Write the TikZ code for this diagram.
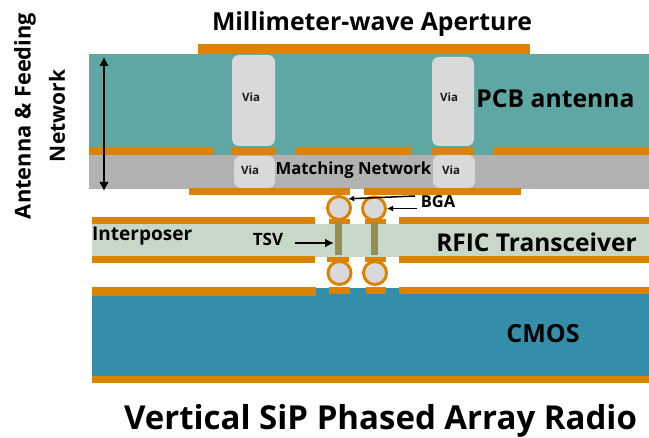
\documentclass[tikz,border=0pt]{standalone}
\usepackage{fontspec}
\setmainfont{Open Sans}
\usetikzlibrary{arrows.meta}
\definecolor{cu}{HTML}{D98300}
\definecolor{pcb}{HTML}{5FA7A2}
\definecolor{mn}{HTML}{B2B2B2}
\definecolor{ip}{HTML}{C8D8C8}
\definecolor{cm}{HTML}{348EA9}
\definecolor{vi}{HTML}{D9D9D9}
\definecolor{ts}{HTML}{958E50}
\newcommand{\fs}[1]{\fontsize{#1}{#1}\selectfont}
\tikzset{x=1pt,y=-1pt,
 band/.style={fill=#1,draw=none},
 cuu/.style={fill=cu,draw=none},
 viab/.style={fill=vi,draw=none,rounded corners=7pt},
 ball/.style={circle,draw=cu,line width=3pt,fill=vi,minimum size=23pt,inner sep=0pt},
 tsvb/.style={fill=ts,draw=none},
 lab/.style={inner sep=0pt,font=\bfseries,text=black},
 vlab/.style={inner sep=0pt,font=\fs{11.5}\bfseries,text=black!90},
 arr/.style={draw=black,line width=1.5pt,-{Latex[length=6pt,width=6pt]}},
}
\begin{document}
\begin{tikzpicture}
\useasboundingbox (0,0) rectangle (649,438);
% layers
\fill[band=pcb] (89,54) rectangle (649,155);
\fill[band=mn] (89,155) rectangle (649,189);
\fill[band=ip] (92,224) rectangle (649,257);
\fill[band=cm] (92,295) rectangle (316,376);
\fill[band=cm] (316,288) rectangle (649,376);
% copper
\fill[cuu] (198,44) rectangle (530,54);
\fill[cuu] (89,147) rectangle (213,155);
\fill[cuu] (231,147) rectangle (275,155);
\fill[cuu] (295,147) rectangle (412,155);
\fill[cuu] (432,147) rectangle (474,155);
\fill[cuu] (494,147) rectangle (649,155);
\fill[cuu] (189,188) rectangle (350,195);
\fill[cuu] (364,188) rectangle (521,195);
\fill[cuu] (92,217) rectangle (315,224);
\fill[cuu] (399,217) rectangle (649,224);
\fill[cuu] (92,256) rectangle (315,263);
\fill[cuu] (399,256) rectangle (649,263);
\fill[cuu] (92,287) rectangle (316,296);
\fill[cuu] (399,287) rectangle (649,294);
\fill[cuu] (92,376) rectangle (649,383);
% pads
\fill[cuu] (329,219) rectangle (350,224);
\fill[cuu] (365,219) rectangle (386,224);
\fill[cuu] (327,257) rectangle (349,262);
\fill[cuu] (365,257) rectangle (386,262);
\fill[cuu] (329,287) rectangle (350,294);
\fill[cuu] (366,287) rectangle (386,294);
% TSV
\fill[tsvb] (335,222) rectangle (342,255);
\fill[tsvb] (371,222) rectangle (378,255);
% vias
\fill[viab] (232,55) rectangle (275,146);
\fill[viab] (432,57) rectangle (474,146);
\fill[viab] (234,156) rectangle (275,188);
\fill[viab] (433,155) rectangle (475,188);
\node[vlab] (v1) at (251,97) {Via};
\node[vlab] (v2) at (449,97) {Via};
\node[vlab] (v3) at (250,170) {Via};
\node[vlab] (v4) at (451,170) {Via};
% balls
\node[ball] (b1) at (339,208) {};
\node[ball] (b2) at (374,208.5) {};
\node[ball] (b3) at (339.5,273) {};
\node[ball] (b4) at (375,273) {};
% labels
\node[lab,font=\fs{24.8}\bfseries] (t1) at (372,24) {Millimeter-wave Aperture};
\node[lab,font=\fs{24.7}\bfseries] (t2) at (555.5,99) {PCB antenna};
\node[lab,font=\fs{16.7}\bfseries] (t3) at (353.5,170) {Matching Network};
\node[lab,font=\fs{24.5}\bfseries] (t4) at (536.5,242) {RFIC Transceiver};
\node[lab,font=\fs{25}\bfseries] (t5) at (543,334) {CMOS};
\node[lab,font=\fs{19}\bfseries,anchor=west] (t6) at (92,236) {Interposer};
\node[lab,font=\fs{17}\bfseries] (t7) at (268,239) {TSV};
\node[lab,font=\fs{16.5}\bfseries] (t8) at (438,202) {BGA};
\node[lab,font=\fs{33}\bfseries] (t9) at (380.5,421) {Vertical SiP Phased Array Radio};
\node[lab,font=\fs{21.8}\bfseries,rotate=90] (t10) at (25,116) {Antenna \& Feeding};
\node[lab,font=\fs{21}\bfseries,rotate=90] (t11) at (57,116) {Network};
% connectors
\coordinate (ht) at (104,57);
\coordinate (hb) at (104,191);
\draw[draw=black,line width=2.2pt,{Latex[length=9pt,width=10pt]}-{Latex[length=9pt,width=10pt]}] (ht) -- (hb);
\coordinate (ba) at (415,196);
\coordinate (bb) at (417,208.5);
\coordinate (ta) at (295,243);
\coordinate (tb) at (334,243);
\draw[arr] (ba) -- (b1.north east);
\draw[arr] (bb) -- (b2.east);
\draw[draw=black,line width=2.6pt,-{Latex[length=9pt,width=9pt]}] (ta) -- (tb);
\end{tikzpicture}
\end{document}
